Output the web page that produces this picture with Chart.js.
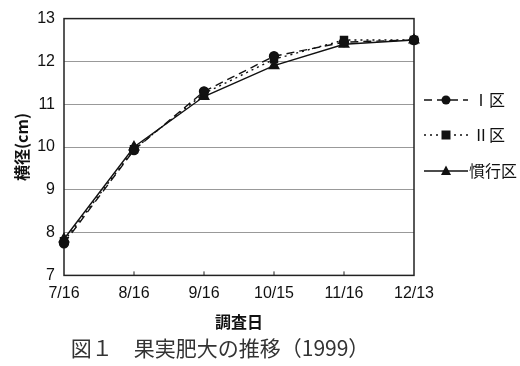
<!DOCTYPE html>
<html>
<head>
<meta charset="utf-8">
<script src="https://cdn.jsdelivr.net/npm/chart.js@4.4.1/dist/chart.umd.min.js"></script>
<style>
  html, body { margin: 0; padding: 0; background: #fff; }
  #wrap { width: 520px; height: 366px; }
</style>
</head>
<body>
<div id="wrap"><canvas id="myChart" width="520" height="366"></canvas></div>
<script>
// 調査日
const dates = ['7/16', '8/16', '9/16', '10/15', '11/16', '12/13'];
// 横径 (cm)
const plot1 = [7.75, 9.93, 11.3, 12.12, 12.45, 12.5];
const plot2 = [7.8, 9.95, 11.25, 12.05, 12.5, 12.5];
const kanko = [7.85, 10.0, 11.18, 11.9, 12.4, 12.5];
const seriesNames = ['Ⅰ区', 'Ⅱ区', '慣行区'];
const yTicks = [7, 8, 9, 10, 11, 12, 13];

const fontSans = "'Liberation Sans', Arial, sans-serif";
const fontJp = "'Noto Sans CJK JP', sans-serif";

// plot frame + small inward ticks on x axis
const framePlugin = {
    id: 'frame',
    beforeDatasetsDraw(chart) {
        const a = chart.chartArea;
        const c = chart.ctx;
        c.save();
        c.strokeStyle = '#222';
        c.lineWidth = 1.5;
        c.strokeRect(a.left, a.top, a.right - a.left, a.bottom - a.top);
        const xs = chart.scales.x;
        c.lineWidth = 1;
        for (let i = 1; i < dates.length - 1; i++) {
            const px = xs.getPixelForValue(i);
            c.beginPath();
            c.moveTo(px, a.bottom);
            c.lineTo(px, a.bottom - 4);
            c.stroke();
        }
        c.restore();
    }
};

function drawMarker(c, style, x, y) {
    c.beginPath();
    if (style === 'circle') {
        c.arc(x, y, 4.5, 0, Math.PI * 2);
    } else if (style === 'rect') {
        c.rect(x - 4.5, y - 4.5, 9, 9);
    } else {
        c.moveTo(x, y - 5.5);
        c.lineTo(x + 5, y + 4);
        c.lineTo(x - 5, y + 4);
        c.closePath();
    }
    c.fill();
}

// legend to the right, line + marker like the original
const legendPlugin = {
    id: 'sideLegend',
    afterDraw(chart) {
        const c = chart.ctx;
        const a = chart.chartArea;
        const ys = [100, 135, 171];
        c.save();
        chart.data.datasets.forEach((ds, i) => {
            const y = ys[i];
            const x0 = a.right + 10;
            const x1 = x0 + 44;
            c.strokeStyle = '#111';
            c.fillStyle = '#111';
            c.lineWidth = 1.3;
            c.setLineDash(ds.borderDash || []);
            c.beginPath();
            c.moveTo(x0, y);
            c.lineTo(x1, y);
            c.stroke();
            c.setLineDash([]);
            drawMarker(c, ds.pointStyle, (x0 + x1) / 2, y);
            c.font = '16px ' + fontJp;
            c.textBaseline = 'middle';
            c.textAlign = 'left';
            c.fillText(ds.label, x1 + (i === 2 ? 1 : 5), y);
        });
        c.restore();
    }
};

new Chart(document.getElementById('myChart'), {
    type: 'line',
    data: {
        labels: dates,
        datasets: [
            {
                label: seriesNames[0],
                data: plot1,
                borderColor: '#111',
                backgroundColor: '#111',
                borderWidth: 1.4,
                borderDash: [8, 5],
                pointStyle: 'circle',
                pointRadius: 4.5
            },
            {
                label: seriesNames[1],
                data: plot2,
                borderColor: '#111',
                backgroundColor: '#111',
                borderWidth: 1.4,
                borderDash: [2, 4],
                pointStyle: 'rect',
                pointRadius: 5
            },
            {
                label: seriesNames[2],
                data: kanko,
                borderColor: '#111',
                backgroundColor: '#111',
                borderWidth: 1.4,
                pointStyle: 'triangle',
                pointRadius: 5.5
            }
        ]
    },
    options: {
        responsive: false,
        animation: false,
        layout: { padding: { left: 12, right: 106, top: 10, bottom: 5 } },
        plugins: {
            legend: { display: false },
            tooltip: { enabled: false },
            title: {
                display: true,
                position: 'bottom',
                text: '   図１　果実肥大の推移（1999）',
                color: '#333',
                font: { family: fontJp, size: 21, weight: 'normal' },
                padding: { top: 4, bottom: 0 }
            }
        },
        scales: {
            x: {
                offset: false,
                grid: { display: false, drawTicks: false },
                border: { display: false },
                ticks: {
                    color: '#111',
                    font: { family: fontSans, size: 16 },
                    padding: 9,
                    maxRotation: 0
                },
                title: {
                    display: true,
                    text: '調査日',
                    color: '#111',
                    font: { family: fontJp, size: 16, weight: 'bold' },
                    padding: { top: 0, bottom: 0 }
                }
            },
            y: {
                min: yTicks[0],
                max: yTicks[yTicks.length - 1],
                afterFit(scale) { scale.width = 52; },
                afterBuildTicks(scale) { scale.ticks = yTicks.map(v => ({ value: v })); },
                grid: { color: '#999', lineWidth: 1, drawTicks: false },
                border: { display: false },
                ticks: {
                    color: '#111',
                    font: { family: fontSans, size: 16 },
                    padding: 9
                },
                title: {
                    display: true,
                    text: '横径(cm)',
                    color: '#111',
                    font: { family: fontJp, size: 16, weight: 'bold' },
                    padding: { top: 0, bottom: 0 }
                }
            }
        }
    },
    plugins: [framePlugin, legendPlugin]
});
</script>
</body>
</html>
